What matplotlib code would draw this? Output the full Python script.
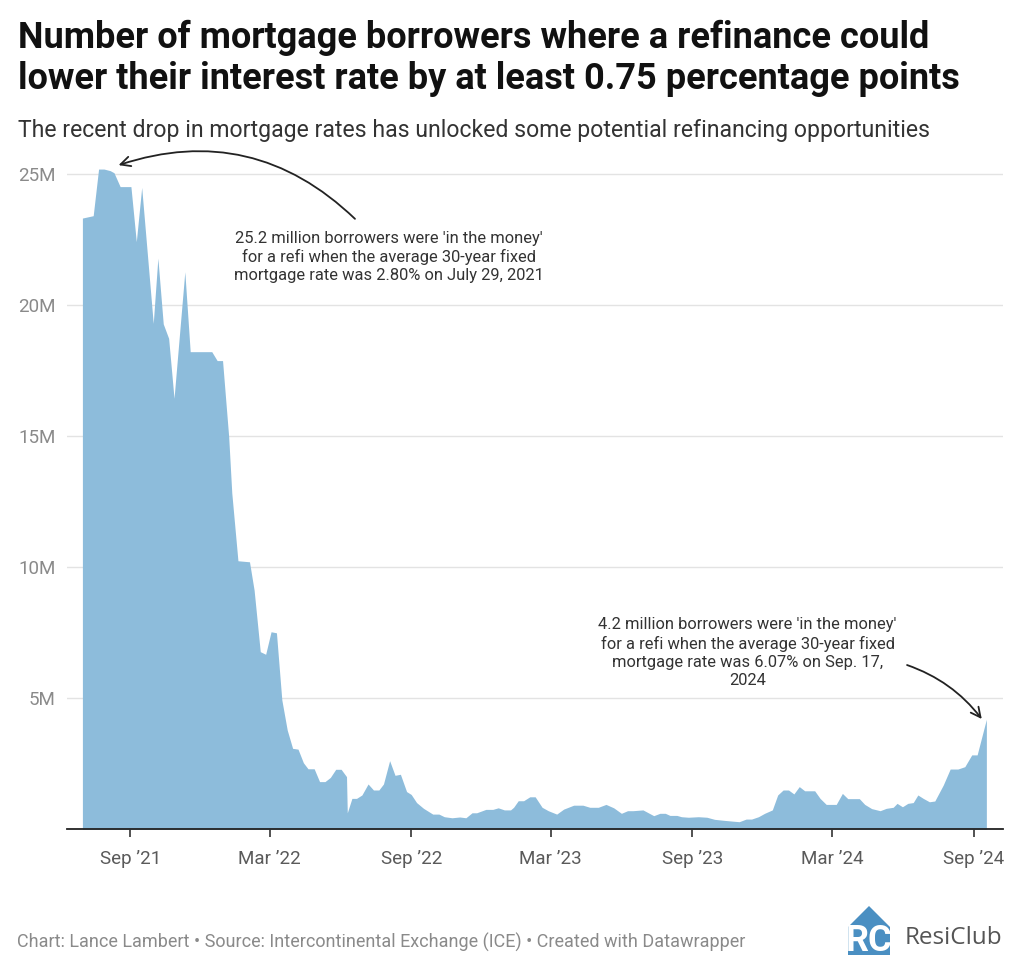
import matplotlib
matplotlib.use("Agg")
import matplotlib.pyplot as plt
import matplotlib.dates as mdates
from matplotlib.patches import Polygon
import numpy as np
import pandas as pd

plt.rcParams['font.family'] = ['Roboto', 'DejaVu Sans']

# ---------------- data ----------------
dates = ["2021-07-01","2021-07-15","2021-07-22","2021-07-29","2021-08-06","2021-08-11","2021-08-19",
         "2021-09-02","2021-09-09","2021-09-16","2021-10-01","2021-10-07","2021-10-14","2021-10-21",
         "2021-10-28","2021-11-11","2021-11-18","2021-12-16","2021-12-23","2021-12-30","2022-01-07",
         "2022-01-11","2022-01-19","2022-02-03","2022-02-09","2022-02-17","2022-02-24","2022-03-03",
         "2022-03-10","2022-03-17","2022-03-24","2022-03-31","2022-04-07","2022-04-14","2022-04-20",
         "2022-04-28","2022-05-05","2022-05-12","2022-05-19","2022-05-26","2022-06-02","2022-06-09",
         "2022-06-10","2022-06-16","2022-06-22","2022-06-29","2022-07-07","2022-07-14","2022-07-21",
         "2022-07-27","2022-08-04","2022-08-11","2022-08-18","2022-08-26","2022-09-01","2022-09-08",
         "2022-09-17","2022-09-29","2022-10-07","2022-10-14","2022-10-24","2022-11-03","2022-11-11",
         "2022-11-19","2022-11-25","2022-12-07","2022-12-16","2022-12-23","2022-12-31","2023-01-08",
         "2023-01-12","2023-01-18","2023-01-25","2023-02-02","2023-02-09","2023-02-18","2023-02-26",
         "2023-03-09","2023-03-18","2023-03-31","2023-04-12","2023-04-21","2023-05-02","2023-05-12",
         "2023-05-22","2023-06-01","2023-06-09","2023-06-16","2023-06-29","2023-07-06","2023-07-13",
         "2023-07-21","2023-07-28","2023-08-03","2023-08-12","2023-08-18","2023-08-27","2023-09-09",
         "2023-09-20","2023-09-30","2023-10-13","2023-10-24","2023-11-01","2023-11-10","2023-11-17",
         "2023-11-26","2023-12-04","2023-12-14","2023-12-21","2023-12-28","2024-01-04","2024-01-11",
         "2024-01-18","2024-01-25","2024-02-07","2024-02-14","2024-02-22","2024-03-06","2024-03-14",
         "2024-03-21","2024-04-05","2024-04-12","2024-04-21","2024-05-02","2024-05-10","2024-05-19",
         "2024-05-24","2024-05-31","2024-06-07","2024-06-14","2024-06-20","2024-06-27","2024-07-05",
         "2024-07-12","2024-07-23","2024-08-01","2024-08-11","2024-08-20","2024-08-29","2024-09-05",
         "2024-09-17"]

borrowers_m = [23.33, 23.42, 25.2, 25.2, 25.14, 25.06, 24.53,
               24.53, 22.43, 24.5, 19.31, 21.8, 19.29, 18.74,
               16.45, 21.28, 18.23, 18.23, 17.89, 17.89, 14.98,
               12.84, 10.25, 10.21, 9.13, 6.78, 6.68, 7.54,
               7.50, 4.94, 3.79, 3.09, 3.06, 2.54, 2.31,
               2.31, 1.82, 1.82, 1.98, 2.29, 2.29, 2.01,
               0.63, 1.18, 1.18, 1.31, 1.73, 1.50, 1.50,
               1.73, 2.62, 2.06, 2.10, 1.44, 1.33, 1.02,
               0.80, 0.58, 0.58, 0.48, 0.44, 0.47, 0.44,
               0.63, 0.63, 0.76, 0.76, 0.82, 0.74, 0.74,
               0.84, 1.09, 1.09, 1.24, 1.24, 0.84, 0.71,
               0.58, 0.77, 0.92, 0.92, 0.84, 0.84, 0.95,
               0.82, 0.61, 0.71, 0.71, 0.74, 0.63, 0.52,
               0.61, 0.61, 0.53, 0.53, 0.48, 0.46, 0.48,
               0.46, 0.38, 0.34, 0.31, 0.29, 0.39, 0.39,
               0.48, 0.61, 0.74, 1.31, 1.50, 1.50, 1.35,
               1.63, 1.47, 1.47, 1.18, 0.95, 0.95, 1.37,
               1.17, 1.17, 0.95, 0.79, 0.71, 0.80, 0.84,
               0.99, 0.86, 0.99, 1.02, 1.31, 1.18, 1.05,
               1.08, 1.69, 2.30, 2.30, 2.39, 2.84, 2.84,
               4.2]

ytick_values = [0, 5e6, 10e6, 15e6, 20e6, 25e6]
ytick_labels = ["", "5M", "10M", "15M", "20M", "25M"]
xtick_dates = ["2021-09-01", "2022-03-01", "2022-09-01", "2023-03-01", "2023-09-01", "2024-03-01", "2024-09-01"]
xtick_labels = ["Sep \u201921", "Mar \u201922", "Sep \u201922", "Mar \u201923", "Sep \u201923", "Mar \u201924", "Sep \u201924"]

title_line1 = "Number of mortgage borrowers where a refinance could"
title_line2 = "lower their interest rate by at least 0.75 percentage points"
subtitle = "The recent drop in mortgage rates has unlocked some potential refinancing opportunities"
footer = "Chart: Lance Lambert \u2022 Source: Intercontinental Exchange (ICE) \u2022 Created with Datawrapper"
note1 = "25.2 million borrowers were 'in the money'\nfor a refi when the average 30-year fixed\nmortgage rate was 2.80% on July 29, 2021"
note2 = "4.2 million borrowers were 'in the money'\nfor a refi when the average 30-year fixed\nmortgage rate was 6.07% on Sep. 17,\n2024"

# ---------------- figure ----------------
W, H = 1024, 971
fig = plt.figure(figsize=(W / 100, H / 100), dpi=100)
fig.patch.set_facecolor("white")

ax_left, ax_right = 66.7, 1003
ax_bottom, ax_top = 829.3, 148.1
ax = fig.add_axes([ax_left / W, (H - ax_bottom) / H, (ax_right - ax_left) / W, (ax_bottom - ax_top) / H])

x = pd.to_datetime(dates)
y = np.array(borrowers_m) * 1e6
ax.fill_between(x, 0, y, color="#8dbcdb", linewidth=0, zorder=2)

start = mdates.date2num(pd.Timestamp("2021-09-01"))
ax.set_xlim(start - 82.4, start + 1133.6)
ax.set_ylim(0, 26e6)

ax.set_yticks(ytick_values)
ax.set_yticklabels(ytick_labels)
ax.set_xticks(pd.to_datetime(xtick_dates))
ax.set_xticklabels(xtick_labels)

for s in ["top", "right", "left"]:
    ax.spines[s].set_visible(False)
ax.spines["bottom"].set_color("#222222")
ax.spines["bottom"].set_linewidth(1.3)
ax.spines["bottom"].set_zorder(5)

ax.grid(axis="y", color="#e3e3e3", linewidth=1.0, zorder=0)
ax.tick_params(axis="y", length=0, pad=8, labelsize=13.5, labelcolor="#8a8a8a")
ax.tick_params(axis="x", length=6, width=1.1, color="#222222", pad=9, labelsize=13.5, labelcolor="#5a5a5a")

# annotations
ax.annotate("", xy=(pd.Timestamp("2021-08-17"), 25.35e6), xytext=(pd.Timestamp("2022-06-20"), 23.3e6),
            arrowprops=dict(arrowstyle="->,head_length=0.7,head_width=0.35", color="#222222", lw=1.3,
                            connectionstyle="arc3,rad=0.3", shrinkA=0, shrinkB=0), zorder=6)
ax.text(pd.Timestamp("2022-08-03"), 21.85e6, note1, ha="center", va="center", multialignment="center",
        fontsize=11.9, color="#333333", linespacing=1.25, zorder=6)

ax.annotate("", xy=(pd.Timestamp("2024-09-11"), 4.21e6), xytext=(pd.Timestamp("2024-06-06"), 6.27e6),
            arrowprops=dict(arrowstyle="->,head_length=0.7,head_width=0.35", color="#222222", lw=1.3,
                            connectionstyle="arc3,rad=-0.15", shrinkA=0, shrinkB=0), zorder=6)
ax.text(pd.Timestamp("2023-11-12"), 6.75e6, note2, ha="center", va="center", multialignment="center",
        fontsize=11.9, color="#333333", linespacing=1.25, zorder=6)

# titles
fig.text(18 / W, 1 - 38 / H, title_line1, ha="left", va="center", fontsize=26, fontweight="bold",
         color="#111111")
fig.text(18 / W, 1 - 79 / H, title_line2, ha="left", va="center", fontsize=26, fontweight="bold",
         color="#111111")
fig.text(18 / W, 1 - 130 / H, subtitle, ha="left", va="center", fontsize=16.6, color="#333333")
fig.text(17 / W, 1 - 942 / H, footer, ha="left", va="center", fontsize=13, color="#8a8a8a")

# logo
logo = fig.add_axes([845 / W, 1 - 955 / H, 48 / W, 50 / H])
logo.set_xlim(0, 48)
logo.set_ylim(0, 50)
logo.axis("off")
logo.add_patch(Polygon([[3, 0], [3, 28], [24, 49], [45, 28], [45, 0]], closed=True,
                       facecolor="#4a8fc2", edgecolor="none"))
logo.text(12, 14, "R", ha="center", va="center", fontsize=26, fontweight="bold", color="white")
logo.text(34, 14, "C", ha="center", va="center", fontsize=26, fontweight="bold", color="white")
fig.text(905 / W, 1 - 938 / H, "ResiClub", ha="left", va="center", fontsize=17.5,
         color="#555555", family=["Open Sans", "DejaVu Sans"])

fig.savefig("out.png", dpi=100, facecolor="white")
